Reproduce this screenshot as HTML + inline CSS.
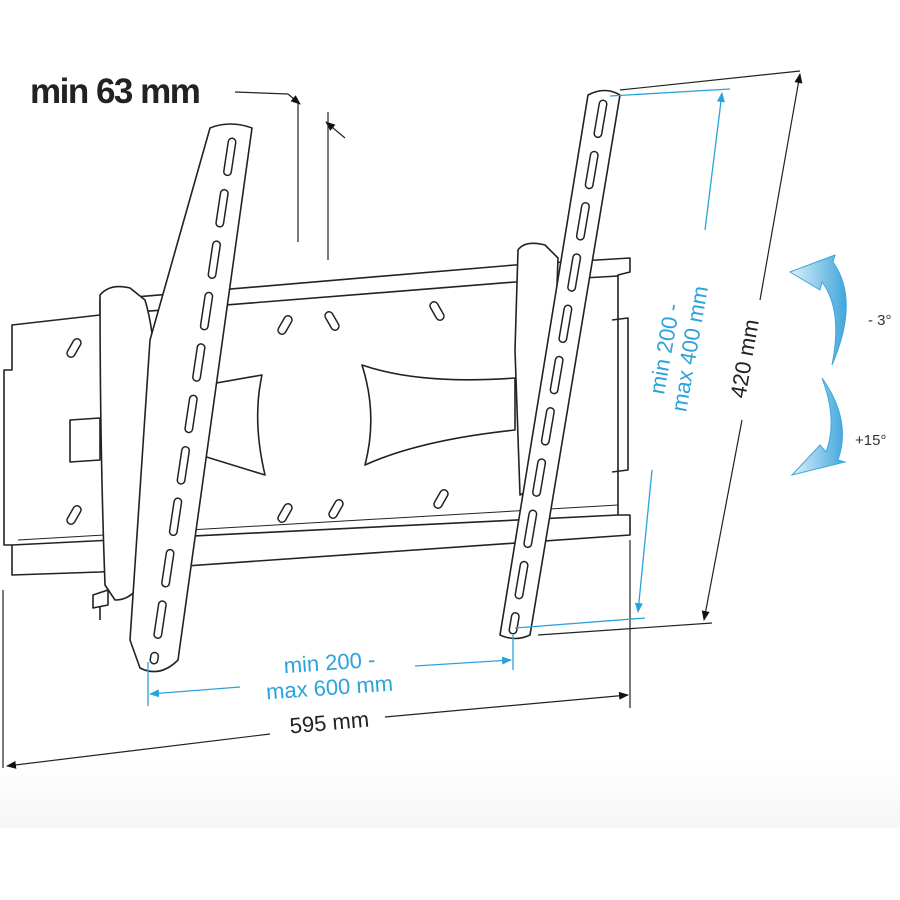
<!DOCTYPE html>
<html><head><meta charset="utf-8"><style>
html,body{margin:0;padding:0;background:#fff}
svg{display:block}
text{font-family:"Liberation Sans",sans-serif}
</style></head><body>
<svg width="900" height="900" viewBox="0 0 900 900" xmlns="http://www.w3.org/2000/svg">
<defs>
<linearGradient id="bg" x1="0" y1="0" x2="0" y2="1">
<stop offset="0" stop-color="#fff"/><stop offset="1" stop-color="#f6f6f6"/></linearGradient>
<linearGradient id="arr" x1="0" y1="0" x2="1" y2="0">
<stop offset="0" stop-color="#dff0fa"/><stop offset="1" stop-color="#3fa6dc"/></linearGradient>
<marker id="ab" markerWidth="10" markerHeight="8" refX="9" refY="4" orient="auto" markerUnits="userSpaceOnUse"><path d="M0,0 L10,4 L0,8 Z" fill="#111"/></marker>
<marker id="abl" markerWidth="10" markerHeight="8" refX="9" refY="4" orient="auto" markerUnits="userSpaceOnUse"><path d="M0,0 L10,4 L0,8 Z" fill="#2aa3dc"/></marker>
</defs>
<rect x="0" y="760" width="900" height="68" fill="url(#bg)"/>

<g fill="#fff" stroke="#222" stroke-width="1.6" stroke-linejoin="round">
<path d="M12,325 L100,315 L100,300 L515,265 L630,258 L630,272 L618,275 L618,515 L630,515 L630,535 L100,572 L12,575 L12,545 L4,545 L4,370 L12,370 Z"/>
<path d="M100,315 L515,282 L618,276" fill="none"/>
<path d="M12,545 L618,515" fill="none"/>
<path d="M18,540 L618,505" fill="none" stroke-width="1"/>
<path d="M70,420 L100,418 L100,460 L70,462 Z"/>
<path d="M612,320 L628,318 L628,470 L612,472" fill="none"/>
<g stroke-width="1.5">
<rect x="70" y="338" width="8" height="20" rx="4" transform="rotate(30 74 348)"/>
<rect x="70" y="505" width="8" height="20" rx="4" transform="rotate(30 74 515)"/>
<rect x="281" y="315" width="8" height="20" rx="4" transform="rotate(30 285 325)"/>
<rect x="328" y="311" width="8" height="20" rx="4" transform="rotate(-30 332 321)"/>
<rect x="433" y="301" width="8" height="20" rx="4" transform="rotate(-30 437 311)"/>
<rect x="281" y="503" width="8" height="20" rx="4" transform="rotate(30 285 513)"/>
<rect x="332" y="499" width="8" height="20" rx="4" transform="rotate(30 336 509)"/>
<rect x="437" y="489" width="8" height="20" rx="4" transform="rotate(30 441 499)"/>
</g>
<path d="M205,385 L262,375 Q252,420 265,475 L200,455 Z"/>
<path d="M362,365 Q420,385 515,378 L515,430 Q420,440 365,465 Q378,415 362,365 Z"/>
<path d="M100,295 Q110,283 130,288 L145,300 Q160,350 150,420 L150,560 Q140,600 115,600 L105,585 Q100,450 100,295 Z"/>
<path d="M210,128 Q230,120 252,128 L178,660 Q160,678 140,668 L130,640 L150,340 Z"/>
<path d="M518,250 Q525,240 545,245 L558,258 L550,480 L520,495 L515,350 Z"/>
<path d="M588,95 Q605,86 620,95 L530,635 Q515,642 500,635 Z"/>
<path d="M93,595 L108,590 L108,605 L93,608 Z"/>
<path d="M100,606 L100,620"/>
</g>
<!-- slots -->
<g fill="none" stroke-linecap="round">
<line x1="232" y1="142" x2="154" y2="660" stroke="#222" stroke-width="9" stroke-dasharray="30 22"/>
<line x1="232" y1="142" x2="154" y2="660" stroke="#fff" stroke-width="6" stroke-dasharray="30 22"/>
<line x1="603" y1="104" x2="513" y2="630" stroke="#222" stroke-width="9" stroke-dasharray="30 22"/>
<line x1="603" y1="104" x2="513" y2="630" stroke="#fff" stroke-width="6" stroke-dasharray="30 22"/>
</g>

<g stroke="#222" stroke-width="1.2" fill="none">
<line x1="3" y1="590" x2="3" y2="768"/>
<line x1="630" y1="540" x2="630" y2="708"/>
<line x1="270" y1="734" x2="7" y2="766" marker-end="url(#ab)"/>
<line x1="385" y1="717" x2="628" y2="695" marker-end="url(#ab)"/>
<line x1="620" y1="90" x2="800" y2="71"/>
<line x1="538" y1="635" x2="712" y2="623"/>
<line x1="760" y1="300" x2="800" y2="74" marker-end="url(#ab)"/>
<line x1="742" y1="420" x2="704" y2="620" marker-end="url(#ab)"/>
<line x1="235" y1="92" x2="288" y2="94"/>
<line x1="288" y1="94" x2="300" y2="104" marker-end="url(#ab)"/>
<line x1="345" y1="138" x2="326" y2="122" marker-end="url(#ab)"/>
<line x1="298" y1="103" x2="298" y2="242"/>
<line x1="328" y1="112" x2="328" y2="260"/>
</g>
<text x="30" y="103" font-size="35" font-weight="bold" fill="#222" letter-spacing="-1.5">min 63 mm</text>
<text x="330" y="730" font-size="22" fill="#222" text-anchor="middle" transform="rotate(-5 330 730)">595 mm</text>
<text x="752" y="360" font-size="22" fill="#222" text-anchor="middle" transform="rotate(-80 752 360)">420 mm</text>

<g stroke="#2aa3dc" stroke-width="1.3" fill="none">
<line x1="148" y1="662" x2="148" y2="706"/>
<line x1="513" y1="635" x2="513" y2="670"/>
<line x1="240" y1="687" x2="150" y2="694" marker-end="url(#abl)"/>
<line x1="415" y1="666" x2="511" y2="660" marker-end="url(#abl)"/>
<line x1="610" y1="96" x2="730" y2="89"/>
<line x1="515" y1="628" x2="645" y2="618"/>
<line x1="705" y1="230" x2="722" y2="93" marker-end="url(#abl)"/>
<line x1="652" y1="470" x2="638" y2="612" marker-end="url(#abl)"/>
</g>
<g fill="#2aa3dc" font-size="22" text-anchor="middle">
<text x="330" y="670" transform="rotate(-4 330 670)">min 200 -</text>
<text x="330" y="695" transform="rotate(-4 330 695)">max 600 mm</text>
<text x="672" y="350" transform="rotate(-80 672 350)">min 200 -</text>
<text x="697" y="350" transform="rotate(-80 697 350)">max 400 mm</text>
</g>

<path d="M790,272 L835,255 L833,262 Q860,300 832,365 Q843,310 822,282 L820,290 Z" fill="url(#arr)" stroke="#3fa6dc" stroke-width="1"/>
<path d="M822,378 Q852,420 838,460 L845,462 L792,475 L820,445 L826,452 Q838,420 822,378 Z" fill="url(#arr)" stroke="#3fa6dc" stroke-width="1"/>
<text x="868" y="325" font-size="15" fill="#333">- 3°</text>
<text x="855" y="445" font-size="15" fill="#333">+15°</text>
</svg>
</body></html>
